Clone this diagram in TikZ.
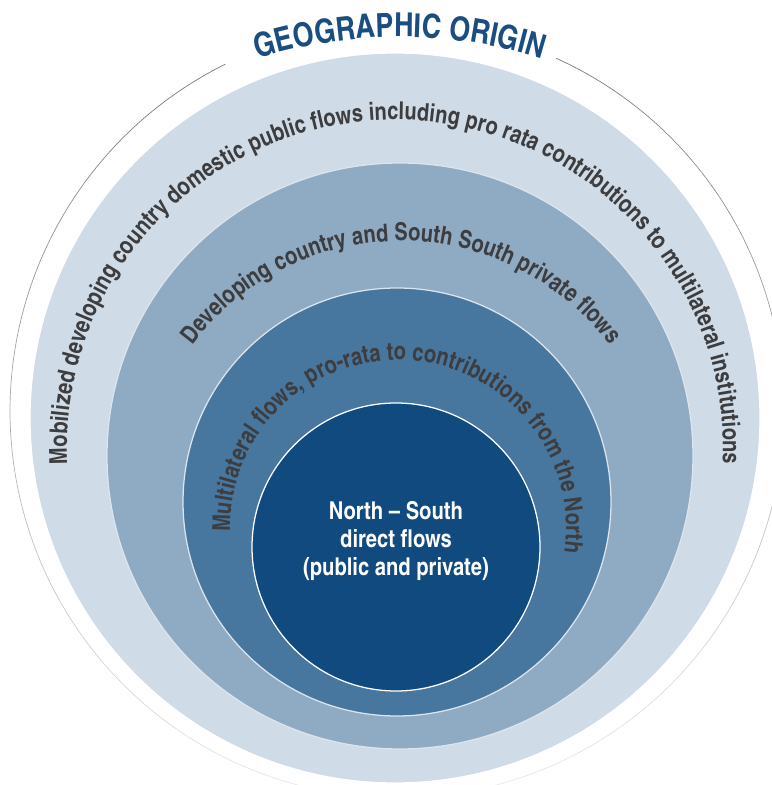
\documentclass[tikz,border=0pt]{standalone}
\usepackage{fontspec}
\usetikzlibrary{decorations.text}

\newfontfamily\cnfont{texgyreheroscn-bold.otf}[Ligatures=TeX]
\newcommand{\ringfont}{\cnfont\fontsize{17.5}{20}\selectfont}
\newcommand{\titlefont}{\cnfont\fontsize{23.5}{26}\selectfont}

\definecolor{ringpale}{HTML}{CFDBE6}
\definecolor{ringlight}{HTML}{8FAAC3}
\definecolor{ringmid}{HTML}{47769F}
\definecolor{ringdark}{HTML}{104A7E}
\definecolor{ringedge}{HTML}{DCE5EE}
\definecolor{titleblue}{HTML}{1A4D80}
\definecolor{labelgray}{HTML}{3D3D3F}

\tikzset{
  disc/.style={fill=#1, draw=ringedge, line width=0.9pt},
  ringtext/.style={decorate, decoration={text along path, text align=center,
      text={|\color{labelgray}\ringfont|#1}}},
}

\begin{document}
\begin{tikzpicture}[x=0.25mm,y=0.25mm]
  \useasboundingbox (0,0) rectangle (772,785);
  % centres of the rim, the discs and the text arcs
  \coordinate (rim) at (397,374);
  \coordinate (c1) at (395,367);
  \coordinate (c2) at (400,329);
  \coordinate (c3) at (397,283);
  \coordinate (c4) at (396,238);
  \coordinate (t0) at (400,271);
  \coordinate (t1) at (395,337);
  \coordinate (t2) at (401,283);
  \coordinate (t3) at (398,257);

  % thin rim, fading out towards the bottom
  \foreach \i in {0,...,59}{
    \pgfmathsetmacro\a{116.3+5.1575*\i}
    \pgfmathsetmacro\b{\a+5.1575}
    \pgfmathsetmacro\k{8+47*(1+sin(\a))/2}
    \draw[black!\k, line width=0.5pt] ([shift={(\a:387)}]rim)
      arc[start angle=\a, end angle=\b, radius=387];
  }

  \filldraw[disc=ringpale, draw=white] (c1) circle[radius=365];
  \filldraw[disc=ringlight] (c2) circle[radius=293];
  \filldraw[disc=ringmid] (c3) circle[radius=214];
  \filldraw[disc=ringdark, draw=white] (c4) circle[radius=144];

  % curved labels
  \path[decorate, decoration={text along path, text align=center,
      text={|\color{titleblue}\titlefont|GEOGRAPHIC ORIGIN}}]
    ([shift={(120:477)}]t0) arc[start angle=120, end angle=60, radius=477];
  \path[ringtext={Mobilized developing country domestic public flows including pro rata contributions to multilateral institutions}]
    ([shift={(200:328)}]t1) arc[start angle=200, end angle=-20, radius=328];
  \path[ringtext={Developing country and South South private flows}]
    ([shift={(160:261)}]t2) arc[start angle=160, end angle=20, radius=261];
  \path[ringtext={Multilateral flows{,} pro-rata to contributions from the North}]
    ([shift={(196.5:168)}]t3) arc[start angle=196.5, end angle=-23.5, radius=168];

  \node[align=center, text=white, font=\ringfont] (core) at (396,244)
    {North -- South\\direct flows\\(public and private)};
\end{tikzpicture}
\end{document}
